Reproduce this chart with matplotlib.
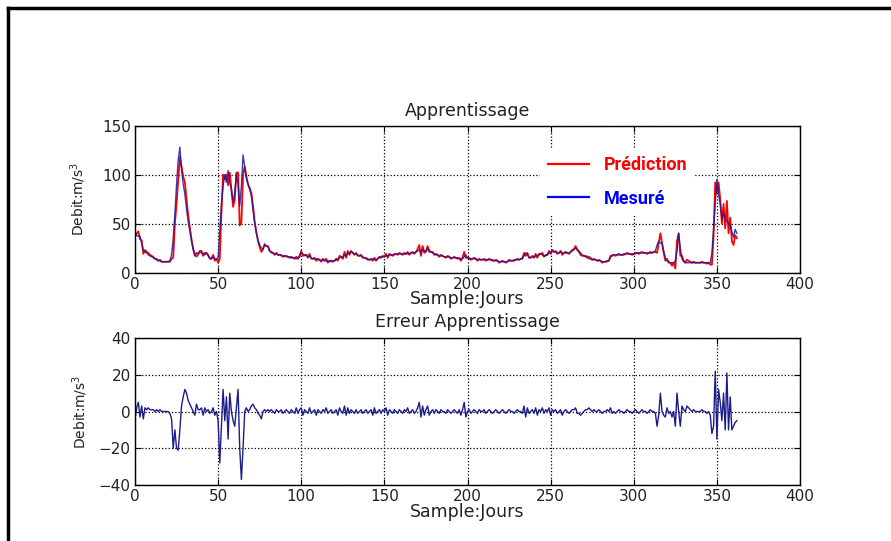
import numpy as np
import matplotlib.pyplot as plt
from matplotlib.lines import Line2D

# Debit mesure, un point par jour (jours 0..362)
mesure = [
    40, 38, 37, 37, 30, 23, 21, 20, 18, 17, 16, 15, 14, 13, 12, 12, 11, 11, 11, 11,
    11, 12, 18, 35, 60, 90, 115, 128, 105, 90, 80, 65, 52, 42, 32, 24, 19, 16, 18, 21,
    20, 19, 18, 20, 17, 15, 14, 16, 14, 14, 15, 42, 70, 88, 100, 92, 104, 92, 85, 72,
    82, 100, 90, 68, 88, 120, 108, 96, 90, 85, 78, 64, 50, 40, 33, 28, 25, 24, 28, 27,
    26, 22, 20, 20, 19, 19, 18, 18, 17, 17, 17, 16, 16, 16, 15, 15, 15, 14, 15, 16,
    20, 19, 17, 18, 16, 17, 15, 14, 14, 14, 13, 13, 12, 13, 12, 12, 11, 12, 11, 12,
    12, 13, 14, 15, 16, 15, 18, 17, 20, 19, 21, 20, 19, 19, 18, 17, 17, 16, 15, 14,
    14, 13, 13, 14, 13, 13, 14, 15, 16, 16, 16, 17, 17, 18, 18, 18, 18, 19, 19, 19,
    19, 19, 19, 19, 19, 19, 20, 20, 20, 21, 22, 23, 20, 24, 22, 21, 24, 23, 21, 20,
    19, 18, 18, 17, 17, 17, 16, 16, 16, 16, 15, 15, 15, 15, 15, 14, 14, 14, 16, 18,
    15, 14, 14, 14, 14, 14, 13, 13, 13, 13, 13, 13, 13, 13, 13, 13, 12, 12, 12, 11,
    11, 11, 11, 11, 11, 12, 12, 12, 13, 13, 13, 13, 14, 15, 17, 20, 18, 16, 15, 16,
    16, 17, 17, 18, 19, 18, 17, 17, 18, 20, 21, 22, 21, 21, 20, 20, 21, 20, 20, 20,
    20, 20, 21, 22, 23, 25, 24, 22, 20, 18, 17, 16, 15, 14, 14, 13, 13, 13, 12, 12,
    12, 11, 11, 11, 11, 12, 15, 18, 18, 18, 18, 18, 18, 18, 19, 19, 19, 19, 19, 19,
    19, 19, 20, 20, 20, 20, 20, 20, 20, 20, 20, 20, 21, 22, 28, 32, 30, 30, 22, 15,
    12, 11, 10, 10, 10, 12, 22, 40, 25, 14, 11, 10, 10, 10, 10, 10, 10, 10, 10, 10,
    10, 10, 10, 10, 10, 10, 10, 20, 45, 70, 95, 80, 70, 55, 60, 55, 52, 50, 48, 42,
    36, 44, 40,
]

# Erreur d'apprentissage (prediction - mesure)
erreur = [
    -4, 2, 5, -3, 3, -4, 2, 1, 2, 1, 1, 1, 0, 1, 0, 1, 0, 0, 0, 0,
    0, -1, -4, -20, -10, -20, -21, -10, 3, 8, 12, 10, 6, 4, 2, 0, -2, 4, 1, 1,
    2, -2, 2, 0, 1, -1, 0, 2, -2, 0, -5, -28, -8, 12, -5, 8, -15, 10, 0, -5,
    -8, 2, 12, -20, -37, -20, 0, 2, 0, 1, 3, 4, 2, 1, -1, -2, -4, 0, 1, 0,
    1, 0, 1, 0, -1, 1, 0, 0, 1, -1, 0, 1, 0, -1, 1, 0, -1, 2, -1, 1,
    2, -2, 1, 0, -1, 2, -1, 0, 1, -2, 1, 0, -1, 1, 0, 2, -1, 0, 1, -1,
    0, 1, -2, 2, 0, -1, 3, -2, 2, -1, 1, 0, -1, 1, -1, 0, 1, -1, 0, 1,
    -1, 0, 1, -2, 2, -1, 0, 1, -1, 1, 0, 2, -2, 1, 0, -1, 1, 0, -1, 1,
    0, -1, 1, 0, 2, -1, 0, 1, -1, 0, 2, 5, -3, 3, -2, 1, 3, -2, 0, 1,
    -1, 1, 0, -1, 1, 0, 0, -1, 1, 0, -1, 0, 1, 0, -1, 1, -2, 1, 5, -3,
    0, 1, -1, 0, 1, 0, -1, 1, 0, 0, 1, -1, 0, 1, 0, -1, 0, 1, 0, -1,
    0, 1, 0, -1, 0, 1, 0, 0, -1, 0, 1, 0, 0, -1, 3, -3, 2, -1, 0, 1,
    -1, 2, -2, 1, 0, 2, -1, 1, 0, 2, -2, 1, 0, 1, -1, 0, 1, -2, 0, 1,
    0, -1, 0, 1, 1, 2, -1, -1, -2, -1, 0, 1, 1, 2, 1, 0, 1, 0, 0, 1,
    0, -1, 0, 0, 1, 0, 2, -1, 0, -1, 0, 1, 0, 0, -1, 0, 1, 0, 0, -1,
    0, 1, 0, -1, 0, 1, 0, 0, -1, 0, 1, 0, 0, -1, -8, -2, 10, 0, -2, -3,
    2, -1, 0, -3, 0, -8, 10, 0, -8, 3, 1, 0, 3, 2, 1, 0, 1, 0, 0, 0,
    0, 1, 0, 0, -1, 0, -2, -12, -8, 22, -15, 12, 5, -5, 10, -10, 21, -10, 8, -10,
    -8, -6, -5,
]

jours = np.arange(len(mesure))
mesure = np.array(mesure, dtype=float)
erreur = np.array(erreur, dtype=float)
prediction = mesure + erreur

x_ticks = [0, 50, 100, 150, 200, 250, 300, 350, 400]
FS = 11
LFS = 12.5
TXT = '#222222'


def style_axes(ax, yticks):
    ax.set_xlim(0, 400)
    ax.set_xticks(x_ticks)
    ax.set_yticks(yticks)
    ax.set_ylim(yticks[0], yticks[-1])
    ax.grid(True, color='black', linestyle=':', linewidth=0.9)
    ax.tick_params(direction='in', top=True, right=True, labelsize=FS,
                   length=4, pad=3, labelcolor=TXT)
    for s in ax.spines.values():
        s.set_linewidth(1.0)


fig = plt.figure(figsize=(8.91, 5.41), dpi=100)

# frame of the original picture
fig.add_artist(Line2D([0.0085, 1.0], [0.986, 0.986], color='black', lw=2.5))
fig.add_artist(Line2D([0.0085, 0.0085], [0.0, 0.986], color='black', lw=2.5))

# Apprentissage
ax1 = fig.add_axes([0.1515, 0.4963, 0.7464, 0.2717])
ax1.plot(jours, prediction, color='red', lw=1.3, label='Prédiction')
ax1.plot(jours, mesure, color='#1a1aa0', lw=1.0, alpha=0.85, label='Mesuré')
style_axes(ax1, [0, 50, 100, 150])
ax1.set_title('Apprentissage', fontsize=LFS, pad=7, color=TXT)
ax1.set_xlabel('Sample:Jours', fontsize=LFS, labelpad=-1, color=TXT)
ax1.set_ylabel('Debit:m/s$^3$', fontsize=10, color=TXT, labelpad=10)
leg = ax1.legend(loc='upper left', bbox_to_anchor=(0.596, 0.90), frameon=True,
                 edgecolor='none', facecolor='white', framealpha=1,
                 handlelength=2.3, handletextpad=0.8, labelspacing=0.85,
                 prop={'family': ['Roboto', 'DejaVu Sans'],
                       'weight': 'bold', 'size': 13})
leg_colors = ['red', 'blue']
for txt, c in zip(leg.get_texts(), leg_colors):
    txt.set_color(c)
for ln, c in zip(leg.get_lines(), leg_colors):
    ln.set_linewidth(1.6)
    ln.set_alpha(1)
    ln.set_color(c)

# Erreur Apprentissage
ax2 = fig.add_axes([0.1515, 0.1035, 0.7464, 0.2717])
ax2.plot(jours, erreur, color='#1c1c8a', lw=1.0)
style_axes(ax2, [-40, -20, 0, 20, 40])
ax2.set_title('Erreur Apprentissage', fontsize=LFS, pad=8, color=TXT)
ax2.set_xlabel('Sample:Jours', fontsize=LFS, labelpad=-1, color=TXT)
ax2.set_ylabel('Debit:m/s$^3$', fontsize=10, color=TXT, labelpad=6)

fig.savefig('out.png', dpi=100)
